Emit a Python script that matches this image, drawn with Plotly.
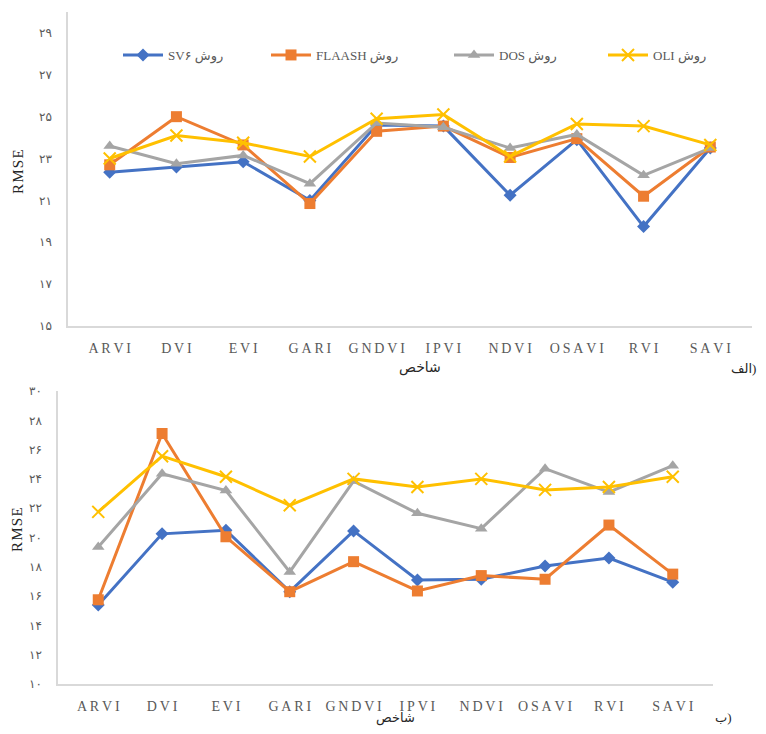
import plotly.graph_objects as go

W, H = 766, 734
OFF = 8  # default page margin round the plot
FW, FH = W - 2 * OFF, H - 2 * OFF

indices = ["ARVI", "DVI", "EVI", "GARI", "GNDVI", "IPVI", "NDVI", "OSAVI", "RVI", "SAVI"]
# labels drawn with a little tracking, as in the original
index_labels = ["\u2009".join(s) for s in indices]

# panel (الف)
top_sv6 = [22.35, 22.6, 22.85, 21.0, 24.6, 24.55, 21.25, 23.9, 19.75, 23.5]
top_flaash = [22.7, 25.0, 23.65, 20.85, 24.3, 24.55, 23.05, 23.95, 21.2, 23.55]
top_dos = [23.6, 22.75, 23.15, 21.8, 24.7, 24.5, 23.5, 24.15, 22.2, 23.5]
top_oli = [23.0, 24.1, 23.75, 23.1, 24.9, 25.1, 23.1, 24.65, 24.55, 23.65]

# panel (ب)
bot_sv6 = [15.4, 20.25, 20.5, 16.3, 20.45, 17.1, 17.15, 18.05, 18.6, 16.95]
bot_flaash = [15.75, 27.1, 20.05, 16.3, 18.35, 16.35, 17.4, 17.15, 20.85, 17.5]
bot_dos = [19.35, 24.35, 23.2, 17.65, 23.85, 21.65, 20.6, 24.7, 23.1, 24.9]
bot_oli = [21.75, 25.55, 24.15, 22.2, 24.0, 23.45, 24.0, 23.25, 23.45, 24.15]

names = ["SV۶ روش", "FLAASH روش", "DOS روش", "OLI روش"]
colors = ["#4472C4", "#ED7D31", "#A5A5A5", "#FFC000"]

top_ticks = [15, 17, 19, 21, 23, 25, 27, 29]
top_ticktext = ["۱۵", "۱۷", "۱۹", "۲۱", "۲۳", "۲۵", "۲۷", "۲۹"]
bot_ticks = [10, 12, 14, 16, 18, 20, 22, 24, 26, 28, 30]
bot_ticktext = ["۱۰", "۱۲", "۱۴", "۱۶", "۱۸", "۲۰", "۲۲", "۲۴", "۲۶", "۲۸", "۳۰"]

FONT = "Liberation Serif, Times New Roman, DejaVu Sans, serif"
GREY = "#595959"


def px_x(p):
    return (p - OFF) / FW


def px_y(p):
    return 1 - (p - OFF) / FH


def marker_for(i, c):
    if i == 0:
        return dict(symbol="diamond", size=10, color=c)
    if i == 1:
        return dict(symbol="square", size=11, color=c)
    if i == 2:
        return dict(symbol="triangle-up", size=11, color=c)
    return dict(symbol="x-thin-open", size=12, color=c, line=dict(color=c, width=2))


fig = go.Figure()

top_series = [top_sv6, top_flaash, top_dos, top_oli]
bot_series = [bot_sv6, bot_flaash, bot_dos, bot_oli]
legend_ids = ["legend", "legend2", "legend3", "legend4"]
legend_x = [118, 266, 449, 603]

for i in range(4):
    fig.add_trace(go.Scatter(
        x=indices, y=top_series[i], name=names[i], mode="lines+markers",
        line=dict(color=colors[i], width=3), marker=marker_for(i, colors[i]),
        xaxis="x", yaxis="y", legend=legend_ids[i]))
for i in range(4):
    fig.add_trace(go.Scatter(
        x=indices, y=bot_series[i], name=names[i], mode="lines+markers",
        line=dict(color=colors[i], width=3), marker=marker_for(i, colors[i]),
        xaxis="x2", yaxis="y2", showlegend=False))

xaxis_common = dict(
    type="category", showgrid=False, zeroline=False, showline=True,
    linecolor="#D9D9D9", linewidth=1.5, ticks="", ticklabelstandoff=8,
    automargin=False, tickvals=indices, ticktext=index_labels,
    tickfont=dict(family=FONT, size=14, color=GREY))
yaxis_common = dict(
    showgrid=False, zeroline=False, showline=True, linecolor="#D9D9D9",
    linewidth=1.5, ticks="", ticklabelstandoff=12, automargin=False,
    tickfont=dict(family=FONT, size=12, color=GREY))

fig.update_layout(
    width=FW, height=FH, autosize=False,
    margin=dict(l=0, r=0, t=0, b=0, pad=0),
    paper_bgcolor="white", plot_bgcolor="white",
    showlegend=True,
    xaxis=dict(xaxis_common, domain=[px_x(68), px_x(752)], anchor="y"),
    yaxis=dict(yaxis_common, domain=[px_y(326), px_y(12)], range=[15, 30],
               tickvals=top_ticks, ticktext=top_ticktext, anchor="x"),
    xaxis2=dict(xaxis_common, domain=[px_x(58), px_x(713)], anchor="y2"),
    yaxis2=dict(yaxis_common, domain=[px_y(684), px_y(391)], range=[10, 30],
                tickvals=bot_ticks, ticktext=bot_ticktext, anchor="x2"),
)

for lid, lx in zip(legend_ids, legend_x):
    fig.update_layout({lid: dict(
        orientation="h", x=px_x(lx), y=px_y(55), xanchor="left", yanchor="middle",
        font=dict(family=FONT, size=13, color=GREY),
        bgcolor="rgba(0,0,0,0)", itemwidth=40)})

ann = [
    dict(text="R\u200aM\u200aS\u200aE", x=18, y=172, textangle=-90, size=15, xa="center"),
    dict(text="R\u200aM\u200aS\u200aE", x=17, y=530, textangle=-90, size=15, xa="center"),
    dict(text="شاخص", x=420, y=368, textangle=0, size=14, xa="center"),
    dict(text="شاخص", x=395, y=718, textangle=0, size=13, xa="center"),
    dict(text="الف)", x=729, y=368, textangle=0, size=13, xa="left"),
    dict(text="ب)", x=713, y=717, textangle=0, size=13, xa="left"),
]
for a in ann:
    fig.add_annotation(
        text=a["text"], x=px_x(a["x"]), y=px_y(a["y"]), xref="paper", yref="paper",
        xanchor=a["xa"], yanchor="middle", textangle=a["textangle"], showarrow=False,
        font=dict(family=FONT, size=a["size"], color="#262626"))

fig.write_html("out.html")
